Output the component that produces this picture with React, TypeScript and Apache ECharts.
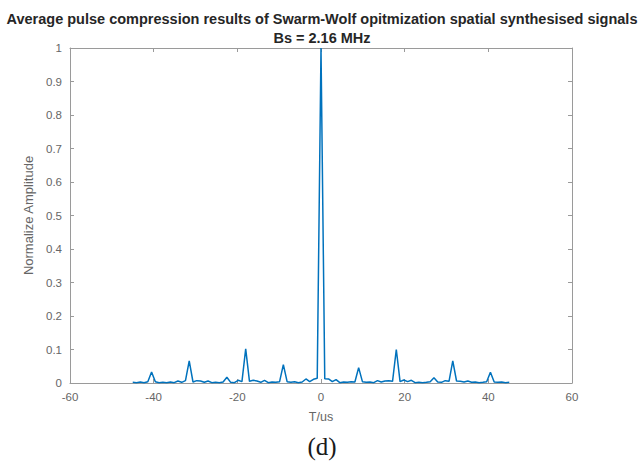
import React, { useEffect, useRef } from "react";
import * as echarts from "echarts";

// Time axis samples (µs)
const timeUs: number[] = [
  -45, -44.1, -43.2, -42.3, -41.4, -40.5, -39.6, -38.7, -37.8, -36.9,
  -36, -35.1, -34.2, -33.3, -32.4, -31.5, -30.6, -29.7, -28.8, -27.9,
  -27, -26.1, -25.2, -24.3, -23.4, -22.5, -21.6, -20.7, -19.8, -18.9,
  -18, -17.1, -16.2, -15.3, -14.4, -13.5, -12.6, -11.7, -10.8, -9.9,
  -9, -8.1, -7.2, -6.3, -5.4, -4.5, -3.6, -2.7, -1.8, -0.9,
  0, 0.9, 1.8, 2.7, 3.6, 4.5, 5.4, 6.3, 7.2, 8.1,
  9, 9.9, 10.8, 11.7, 12.6, 13.5, 14.4, 15.3, 16.2, 17.1,
  18, 18.9, 19.8, 20.7, 21.6, 22.5, 23.4, 24.3, 25.2, 26.1,
  27, 27.9, 28.8, 29.7, 30.6, 31.5, 32.4, 33.3, 34.2, 35.1,
  36, 36.9, 37.8, 38.7, 39.6, 40.5, 41.4, 42.3, 43.2, 44.1,
  45,
];

// Normalized pulse compression amplitude at each sample
const amplitude: number[] = [
  0.002, 0.001, 0.003, 0.001, 0.004, 0.033, 0.004, 0.001, 0.002, 0.001,
  0.003, 0.001, 0.006, 0.002, 0.007, 0.066, 0.003, 0.007, 0.006, 0.002,
  0.006, 0.001, 0.002, 0.001, 0.003, 0.017, 0.002, 0.001, 0.008, 0.004,
  0.102, 0.005, 0.008, 0.006, 0.002, 0.008, 0.001, 0.003, 0.002, 0.004,
  0.055, 0.004, 0.002, 0.004, 0.001, 0.003, 0.012, 0.004, 0.011, 0.014,
  1.0, 0.013, 0.012, 0.004, 0.01, 0.001, 0.003, 0.002, 0.004, 0.003,
  0.046, 0.004, 0.002, 0.003, 0.001, 0.007, 0.003, 0.006, 0.007, 0.005,
  0.1, 0.004, 0.009, 0.004, 0.008, 0.001, 0.002, 0.001, 0.002, 0.004,
  0.016, 0.003, 0.002, 0.007, 0.005, 0.066, 0.006, 0.005, 0.003, 0.006,
  0.002, 0.003, 0.001, 0.002, 0.004, 0.032, 0.003, 0.002, 0.003, 0.001,
  0.002,
];

const titleLine1 =
  "Average pulse compression results of Swarm-Wolf opitmization spatial synthesised signals";
const titleLine2 = "Bs = 2.16 MHz";
const xName = "T/us";
const yName = "Normalize Amplitude";
const caption = "(d)";

const axisGray = "#9a9a9a";
const labelGray = "#666666";
const font = "Liberation Sans, Arial, sans-serif";

export default function App() {
  const ref = useRef<HTMLDivElement>(null);

  useEffect(() => {
    if (!ref.current) return;
    const chart = echarts.init(ref.current, undefined, { renderer: "svg" });

    const tickCommon = {
      show: true,
      inside: true,
      length: 4,
      lineStyle: { color: axisGray, width: 1 },
    };

    chart.setOption({
      animation: false,
      backgroundColor: "#ffffff",
      title: {
        text: titleLine1 + "\n" + titleLine2,
        left: "center",
        top: 4,
        textStyle: {
          fontFamily: font,
          fontSize: 14.5,
          fontWeight: "bold",
          color: "#262626",
          lineHeight: 19,
        },
      },
      grid: { left: 70, right: 72, top: 48, bottom: 78, containLabel: false },
      xAxis: [
        {
          type: "value",
          min: -60,
          max: 60,
          interval: 20,
          position: "bottom",
          name: xName,
          nameLocation: "middle",
          nameGap: 27,
          nameTextStyle: { fontFamily: font, fontSize: 12.5, color: labelGray },
          axisLine: { show: true, onZero: false, lineStyle: { color: axisGray } },
          axisTick: tickCommon,
          axisLabel: { fontFamily: font, fontSize: 11.5, color: labelGray, margin: 8 },
          splitLine: { show: false },
        },
        {
          type: "value",
          min: -60,
          max: 60,
          interval: 20,
          position: "top",
          axisLine: { show: true, onZero: false, lineStyle: { color: axisGray } },
          axisTick: tickCommon,
          axisLabel: { show: false },
          splitLine: { show: false },
        },
      ],
      yAxis: [
        {
          type: "value",
          min: 0,
          max: 1,
          interval: 0.1,
          position: "left",
          name: yName,
          nameLocation: "middle",
          nameGap: 26,
          nameTextStyle: { fontFamily: font, fontSize: 13, color: labelGray },
          axisLine: { show: true, onZero: false, lineStyle: { color: axisGray } },
          axisTick: tickCommon,
          axisLabel: { fontFamily: font, fontSize: 11.5, color: labelGray, margin: 8 },
          splitLine: { show: false },
        },
        {
          type: "value",
          min: 0,
          max: 1,
          interval: 0.1,
          position: "right",
          axisLine: { show: true, onZero: false, lineStyle: { color: axisGray } },
          axisTick: tickCommon,
          axisLabel: { show: false },
          splitLine: { show: false },
        },
      ],
      series: [
        {
          type: "line",
          data: timeUs.map((t, i) => [t, amplitude[i]]),
          xAxisIndex: 0,
          yAxisIndex: 0,
          showSymbol: false,
          symbol: "none",
          lineStyle: { color: "#0072BD", width: 1.5 },
          z: 3,
        },
      ],
      graphic: [
        {
          type: "text",
          left: "center",
          top: 434,
          style: {
            text: caption,
            fontFamily: "Liberation Serif, DejaVu Serif, serif",
            fontSize: 25,
            fill: "#1a1a1a",
          },
        },
      ],
    });

    return () => chart.dispose();
  }, []);

  return (
    <div
      ref={ref}
      style={{ position: "fixed", left: 0, top: 0, width: 644, height: 461 }}
    />
  );
}
